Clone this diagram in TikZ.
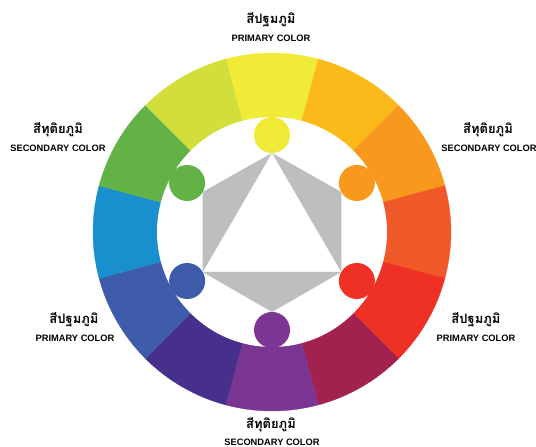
\documentclass[tikz,border=0pt]{standalone}
\usepackage{fontspec}
\setmainfont{Liberation Sans}
\newfontfamily\thaifont[Script=Thai]{Loma}
\definecolor{cA}{HTML}{F1EA36}
\definecolor{cB}{HTML}{FBBA1A}
\definecolor{cC}{HTML}{F8991D}
\definecolor{cD}{HTML}{F15A28}
\definecolor{cE}{HTML}{EE3124}
\definecolor{cF}{HTML}{A3214F}
\definecolor{cG}{HTML}{7B3592}
\definecolor{cH}{HTML}{46308C}
\definecolor{cI}{HTML}{3E5CA9}
\definecolor{cJ}{HTML}{1A8FCE}
\definecolor{cK}{HTML}{63B245}
\definecolor{cL}{HTML}{D2DE3B}
\definecolor{greyfill}{HTML}{BCBEC0}
\tikzset{
  thailabel/.style={inner sep=0pt, font=\thaifont\bfseries\fontsize{13}{15}\selectfont},
  englabel/.style={inner sep=0pt, font=\bfseries\fontsize{9.3}{11}\selectfont},
  dot/.style={circle, inner sep=0pt, minimum size=36pt, draw=none}
}
\begin{document}
\begin{tikzpicture}[x=1pt,y=1pt]
\useasboundingbox (0,0) rectangle (536,447);
\coordinate (c) at (272,215);
% outer ring sectors
\foreach \a/\col in {90/cA,60/cB,30/cC,0/cD,-30/cE,-60/cF,-90/cG,-120/cH,-150/cI,180/cJ,150/cK,120/cL}{
  \filldraw[fill=\col, draw=\col, line width=0.3pt] (c) -- ++(\a-15:179) arc[start angle=\a-15, end angle=\a+15, radius=179] -- cycle;
}
% inner white disc
\fill[white] (c) circle[radius=115];
% hexagon points
\path (c) ++(90:79) coordinate (h90);
\path (c) ++(150:80) coordinate (h150);
\path (c) ++(210:80) coordinate (h210);
\path (c) ++(270:80) coordinate (h270);
\path (c) ++(330:80) coordinate (h330);
\path (c) ++(30:80) coordinate (h30);
\fill[greyfill] (h90) -- (h150) -- (h210) -- cycle;
\fill[greyfill] (h210) -- (h270) -- (h330) -- cycle;
\fill[greyfill] (h330) -- (h30) -- (h90) -- cycle;
% color dots
\path (c) ++(90:97) node[dot, fill=cA] (dyellow) {};
\path (c) ++(30:98) node[dot, fill=cC] (dorange) {};
\path (c) ++(-30:98) node[dot, fill=cE] (dred) {};
\path (c) ++(-90:98) node[dot, fill=cG] (dpurple) {};
\path (c) ++(-150:98) node[dot, fill=cI] (dblue) {};
\path (c) ++(150:98) node[dot, fill=cK] (dgreen) {};
% labels
\node[thailabel] (t1) at (271,427) {สีปฐมภูมิ};
\node[englabel] (e1) at (271,409) {PRIMARY COLOR};
\node[thailabel] (t2) at (58,317) {สีทุติยภูมิ};
\node[englabel] (e2) at (58,299) {SECONDARY COLOR};
\node[thailabel] (t3) at (488,317) {สีทุติยภูมิ};
\node[englabel] (e3) at (489,299) {SECONDARY COLOR};
\node[thailabel] (t4) at (74,127) {สีปฐมภูมิ};
\node[englabel] (e4) at (75,109) {PRIMARY COLOR};
\node[thailabel] (t5) at (476,127) {สีปฐมภูมิ};
\node[englabel] (e5) at (476,109) {PRIMARY COLOR};
\node[thailabel] (t6) at (271,22) {สีทุติยภูมิ};
\node[englabel] (e6) at (272,5) {SECONDARY COLOR};
\end{tikzpicture}
\end{document}
